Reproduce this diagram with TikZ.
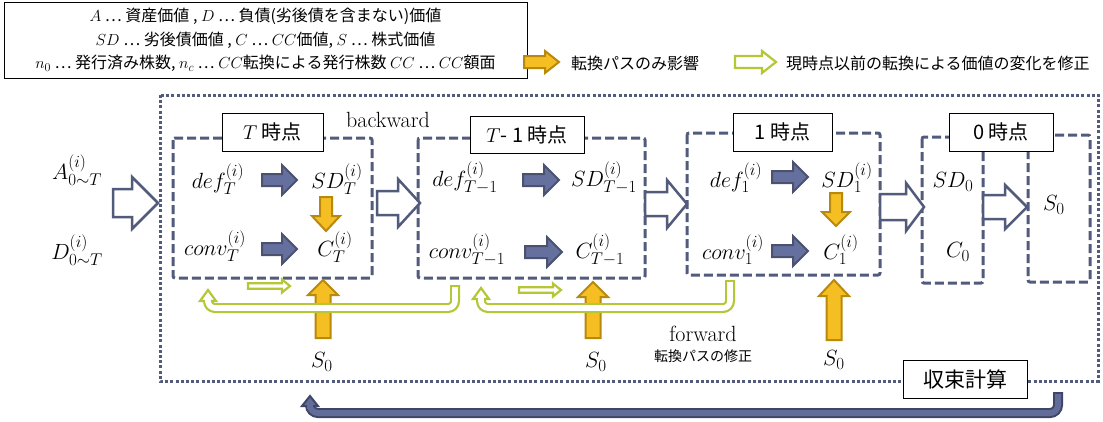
\RequirePackage{fix-cm}
\documentclass[tikz,border=0pt]{standalone}
\usepackage{fontspec}
\newfontfamily\jp{Noto Sans CJK JP}
\DeclareMathSizes{22}{22}{17}{13}
\DeclareMathSizes{16}{16}{12}{9}
\definecolor{slate}{HTML}{525B7B}
\definecolor{bfill}{HTML}{66709F}
\definecolor{bdraw}{HTML}{4A526F}
\definecolor{gfill}{HTML}{F5BF24}
\definecolor{gdraw}{HTML}{B9890B}
\definecolor{lgreen}{HTML}{B5C636}
\definecolor{udraw}{HTML}{3E4566}
\definecolor{ufill}{HTML}{626C99}
% horizontal block arrow: style, x1, x2(tip), y, shaft half, head half, head length
\newcommand\RArr[7]{\draw[#1] ({#2},{#4-#5}) -- ({#3-#7},{#4-#5}) -- ({#3-#7},{#4-#6}) -- ({#3},{#4}) -- ({#3-#7},{#4+#6}) -- ({#3-#7},{#4+#5}) -- ({#2},{#4+#5}) -- cycle;}
% vertical block arrow: style, x, y base, y tip, shaft half, head half, signed head length (+ up, - down)
\newcommand\VArr[7]{\draw[#1] ({#2-#5},{#3}) -- ({#2-#5},{#4+(#7)}) -- ({#2-#6},{#4+(#7)}) -- ({#2},{#4}) -- ({#2+#6},{#4+(#7)}) -- ({#2+#5},{#4+(#7)}) -- ({#2+#5},{#3}) -- cycle;}
\begin{document}
\begin{tikzpicture}[x=1pt,y=-1pt,
  every node/.style={inner sep=0pt, outer sep=0pt},
  m/.style={font=\fontsize{22}{26}\selectfont},
  dbox/.style={draw=slate, line width=3pt, dash pattern=on 9pt off 4pt, rounded corners=2pt},
  obox/.style={draw=slate, line width=3pt, dash pattern=on 3pt off 2.2pt},
  lbl/.style={draw=black, line width=0.8pt, fill=white, font=\jp\fontsize{20}{24}\selectfont},
  barr/.style={fill=bfill, draw=bdraw, line width=2pt, line join=miter},
  garr/.style={fill=gfill, draw=gdraw, line width=2pt, line join=miter},
  oarr/.style={fill=white, draw=slate, line width=2.5pt, line join=miter},
  lgarr/.style={fill=white, draw=lgreen, line width=2.2pt, line join=miter},
]
\useasboundingbox (0,0) rectangle (1103,421);

% legend
\node[draw=black, line width=0.8pt, minimum width=523pt, minimum height=76pt, align=center,
      font=\jp\fontsize{16}{23.5}\selectfont] (legend) at (265.5,40)
 {$A$ \ldots\ 資産価値 , $D$ \ldots\ 負債(劣後債を含まない)価値\\
  $SD$ \ldots\ 劣後債価値 , $C$ \ldots\ $CC$価値, $S$ \ldots\ 株式価値\\
  $n_0$ \ldots\ 発行済み株数, $n_c$ \ldots\ $CC$転換による発行株数 $CC$ \ldots\ $CC$額面};
\RArr{garr}{524}{559}{62}{6}{11}{14}
\node[anchor=west, font=\jp\fontsize{16}{20}\selectfont] (lg1) at (571,63) {転換パスのみ影響};
\RArr{lgarr}{735}{776}{62}{6}{11}{14}
\node[anchor=west, font=\jp\fontsize{16}{20}\selectfont] (lg2) at (786,63) {現時点以前の転換による価値の変化を修正};

% frames
\draw[obox] (160,95) rectangle (1098,381);
\draw[dbox] (173,138) rectangle (372,278);
\draw[dbox] (418,138) rectangle (645,278);
\draw[dbox] (687,133) rectangle (880,275);
\draw[dbox] (922,137) rectangle (983,283);
\draw[dbox] (1028,135) rectangle (1090,282);

\node[lbl, minimum width=101pt, minimum height=38pt] (lT) at (272.5,132) {$T$ 時点};
\node[lbl, minimum width=114pt, minimum height=37pt] (lT1) at (527,135) {$T$- 1 時点};
\node[lbl, minimum width=99pt, minimum height=38pt] (l1) at (782.5,132) {1 時点};
\node[lbl, minimum width=104pt, minimum height=38pt] (l0) at (1001,132) {0 時点};
\node[lbl, font=\jp\fontsize{21}{25}\selectfont, minimum width=124pt, minimum height=38pt] (conv) at (965,379) {収束計算};

\node[font=\fontsize{22}{26}\selectfont] (bw) at (388,120) {backward};
\node[font=\fontsize{22}{26}\selectfont] (fw) at (703,334) {forward};
\node[font=\jp\fontsize{14}{16}\selectfont] (fwj) at (703,356) {転換パスの修正};

% math nodes
\node[m] (A) at (77,170) {$A^{(i)}_{0\sim T}$};
\node[m] (D) at (77,250) {$D^{(i)}_{0\sim T}$};
\node[m] (defT) at (218,179) {$def^{(i)}_T$};
\node[m] (SDT) at (337,179) {$SD^{(i)}_T$};
\node[m] (convT) at (215,246) {$conv^{(i)}_T$};
\node[m] (CT) at (335,247) {$C^{(i)}_T$};
\node[m] (defT1) at (465,178) {$def^{(i)}_{T-1}$};
\node[m] (SDT1) at (604,178) {$SD^{(i)}_{T-1}$};
\node[m] (convT1) at (467,250) {$conv^{(i)}_{T-1}$};
\node[m] (CT1) at (600,250) {$C^{(i)}_{T-1}$};
\node[m] (def1) at (736,178) {$def^{(i)}_1$};
\node[m] (SD1) at (847,178) {$SD^{(i)}_1$};
\node[m] (conv1) at (733,250) {$conv^{(i)}_1$};
\node[m] (C1) at (841,250) {$C^{(i)}_1$};
\node[m] (SD0) at (953,182) {$SD_0$};
\node[m] (C0) at (958,252) {$C_0$};
\node[m] (S0r) at (1054,205) {$S_0$};
\node[m] (S0a) at (322,362) {$S_0$};
\node[m] (S0b) at (596,362) {$S_0$};
\node[m] (S0c) at (834,360) {$S_0$};

% big outline arrows
\RArr{oarr}{113}{158}{203}{14}{26}{26}
\RArr{oarr}{377}{420}{203}{12}{24}{22}
\RArr{oarr}{645}{687}{204}{12}{24}{20}
\RArr{oarr}{880}{924}{207}{13}{24}{18}
\RArr{oarr}{983}{1027}{207}{12}{22}{22}

% blue filled arrows
\RArr{barr}{262}{297}{180}{6}{15}{15}
\RArr{barr}{262}{297}{249}{6}{15}{15}
\RArr{barr}{523}{559}{180}{6}{15}{15}
\RArr{barr}{525}{562}{252}{6}{15}{15}
\RArr{barr}{772}{808}{177}{6}{15}{15}
\RArr{barr}{772}{808}{251}{6}{15}{15}

% gold arrows
\VArr{garr}{326}{197}{231}{6}{14}{-15}
\VArr{garr}{836}{193}{226}{6}{14}{-14}
\VArr{garr}{323}{338}{280}{7.5}{15}{15}
\VArr{garr}{593}{338}{282}{7.5}{15}{15}
\VArr{garr}{834}{340}{280}{7.5}{15}{16}

% small green arrows
\RArr{lgarr}{248}{290}{286}{2.8}{6.5}{8}
\RArr{lgarr}{519}{561}{290}{2.8}{6.5}{8}

% green U-turn arrows
\draw[lgreen, line width=2.2pt, double=white, double distance=5.6pt, rounded corners=7pt]
  (455,285) -- (455,308) -- (208,308) -- (208,301);
\draw[lgreen, line width=2.2pt] (450,286.1) -- (460,286.1);
\draw[lgarr] (200,301) -- (216,301) -- (208,290) -- cycle;
\fill[white] (205.2,298) rectangle (210.8,303);

\draw[lgreen, line width=2.2pt, double=white, double distance=5.6pt, rounded corners=7pt]
  (730,280) -- (730,308) -- (481,308) -- (481,299);
\draw[lgreen, line width=2.2pt] (725,281.1) -- (735,281.1);
\draw[lgarr] (473,299) -- (489,299) -- (481,288) -- cycle;
\fill[white] (478.2,296) rectangle (483.8,301);

% blue U-turn arrow
\draw[udraw, line width=2pt, double=ufill, double distance=6pt, rounded corners=8pt]
  (1058,392) -- (1058,413) -- (310,413) -- (310,406);
\draw[udraw, line width=2pt] (1053,393) -- (1063,393);
\draw[udraw, line width=2pt, fill=ufill, line join=miter] (302,406) -- (318,406) -- (310,396) -- cycle;
\fill[ufill] (307,404) rectangle (313,409);
\end{tikzpicture}
\end{document}
